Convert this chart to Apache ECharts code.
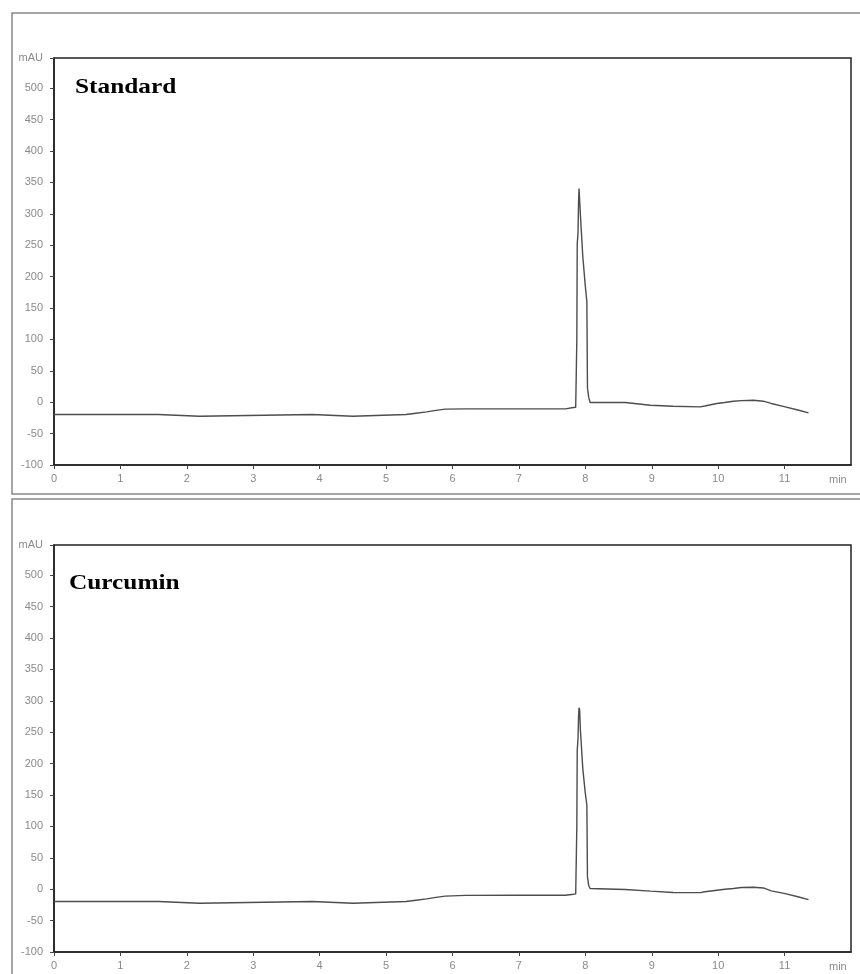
<!DOCTYPE html>
<html><head><meta charset="utf-8">
<script src="https://cdn.jsdelivr.net/npm/echarts@6/dist/echarts.min.js"></script>
<style>html,body{margin:0;padding:0;background:#fff}#c{width:860px;height:974px}</style>
</head><body><div id="c"></div><script>
// ---- data (time in min, absorbance in mAU) ----
const panelTitles = ['Standard', 'Curcumin'];
const xTicks = [0, 1, 2, 3, 4, 5, 6, 7, 8, 9, 10, 11];
const yTicks = [-100, -50, 0, 50, 100, 150, 200, 250, 300, 350, 400, 450, 500];
const xUnit = 'min';
const yUnit = 'mAU';

const stdTime = [0, 1.57, 1.59, 2.19, 2.21, 3.89, 3.91, 4.5, 4.52, 5.3, 5.45, 5.61, 5.75, 5.89, 6.2, 7.0, 7.7, 7.82, 7.855, 7.868, 7.872, 7.878, 7.89, 7.898, 7.905, 7.915, 7.925, 7.935, 7.962, 7.997, 8.023, 8.032, 8.05, 8.072, 8.6, 8.62, 8.98, 9.0, 9.32, 9.35, 9.73, 9.8, 9.98, 10.1, 10.23, 10.35, 10.53, 10.68, 10.8, 11.01, 11.2, 11.36];
const stdValue = [-19.5, -19.5, -22.5, -22.5, -19.5, -19.5, -22.5, -22.5, -19.5, -19.5, -17.5, -15.4, -13, -11, -10.6, -10.6, -10.6, -8.5, -8, -5, 100, 252, 270, 320, 340, 338, 300, 281, 232, 188, 160, 23, 8, -0.5, -0.5, -3.2, -4.8, -5.5, -6.4, -7.4, -7.4, -6, -2.1, -0.5, 1.6, 2.5, 3, 1.6, -2, -7.5, -12.5, -17];

const curTime = [0, 1.57, 1.59, 2.19, 2.21, 3.89, 3.91, 4.5, 4.52, 5.3, 5.45, 5.61, 5.75, 5.89, 6.2, 7.0, 7.7, 7.82, 7.855, 7.868, 7.872, 7.878, 7.89, 7.898, 7.905, 7.915, 7.925, 7.935, 7.962, 7.997, 8.023, 8.032, 8.05, 8.072, 8.6, 8.62, 8.98, 9.0, 9.32, 9.35, 9.73, 9.8, 9.98, 10.1, 10.23, 10.35, 10.53, 10.68, 10.8, 11.01, 11.2, 11.36];
const curValue = [-19.5, -19.5, -22.5, -22.5, -19.5, -19.5, -22.5, -22.5, -19.5, -19.5, -17.5, -15.4, -13, -11, -9.8, -9.6, -9.6, -8, -7.5, -5, 100, 221, 240, 275, 289, 285, 255, 238, 192, 155, 134, 20, 6, 1, -0.5, -2.6, -3, -4.8, -5.2, -5.8, -5.5, -4, -1.6, 0, 1, 2.6, 3.2, 2, -2.6, -7, -12, -16.5];

const xMin = 0, xMax = 12, yMin = -100, yMax = 548;

// ---- chart ----
const chart = echarts.init(document.getElementById('c'));
const labelFont = 'Liberation Sans';
const labelColor = '#8a8a8a';
const grids = [
  {left: 54, top: 58, width: 797, height: 407},
  {left: 54, top: 545, width: 797, height: 407}
].map(g => Object.assign(g, {show: true, borderColor: '#222', borderWidth: 1.5, backgroundColor: '#fff'}));

function xAxisFor(i) {
  return {
    type: 'value', gridIndex: i, min: xMin, max: xMax, interval: 1,
    name: xUnit, nameLocation: 'end', nameGap: -22,
    nameTextStyle: {color: labelColor, fontSize: 11, fontFamily: labelFont, verticalAlign: 'top', padding: [9, 0, 0, 0]},
    axisLine: {show: true, onZero: false, lineStyle: {color: '#222', width: 1.5}},
    axisTick: {show: true, length: 4, lineStyle: {color: '#444'}, customValues: xTicks},
    axisLabel: {color: labelColor, fontSize: 11, fontFamily: labelFont, margin: 8, customValues: xTicks},
    splitLine: {show: false}
  };
}
function yAxisFor(i) {
  return {
    type: 'value', gridIndex: i, min: yMin, max: yMax, interval: 50,
    axisLine: {show: true, onZero: false, lineStyle: {color: '#222', width: 1.5}},
    axisTick: {show: true, length: 4, lineStyle: {color: '#444'}},
    axisLabel: {color: labelColor, fontSize: 11, fontFamily: labelFont, margin: 11,
      formatter: v => (v >= yMax ? yUnit : (yTicks.indexOf(v) >= 0 ? String(v) : ''))},
    splitLine: {show: false}
  };
}
function seriesFor(i, t, v) {
  return {
    type: 'line', xAxisIndex: i, yAxisIndex: i, symbol: 'none', smooth: false,
    lineStyle: {color: '#4d4d4d', width: 1.4}, animation: false,
    data: t.map((x, k) => [x, v[k]])
  };
}

chart.setOption({
  backgroundColor: '#fff',
  animation: false,
  grid: grids,
  xAxis: [xAxisFor(0), xAxisFor(1)],
  yAxis: [yAxisFor(0), yAxisFor(1)],
  series: [seriesFor(0, stdTime, stdValue), seriesFor(1, curTime, curValue)],
  graphic: [
    {type: 'rect', z: -10, shape: {x: 12, y: 13, width: 870, height: 481}, style: {fill: 'none', stroke: '#888', lineWidth: 1.5}},
    {type: 'rect', z: -10, shape: {x: 12, y: 499, width: 870, height: 500}, style: {fill: 'none', stroke: '#888', lineWidth: 1.5}},
    {type: 'text', x: 75, y: 76, scaleX: 1.15, z: 10, style: {text: panelTitles[0], font: 'bold 22px "Liberation Serif"', fill: '#000', textBaseline: 'top'}},
    {type: 'text', x: 69, y: 572, scaleX: 1.15, z: 10, style: {text: panelTitles[1], font: 'bold 22px "Liberation Serif"', fill: '#000', textBaseline: 'top'}}
  ]
});
</script></body></html>
